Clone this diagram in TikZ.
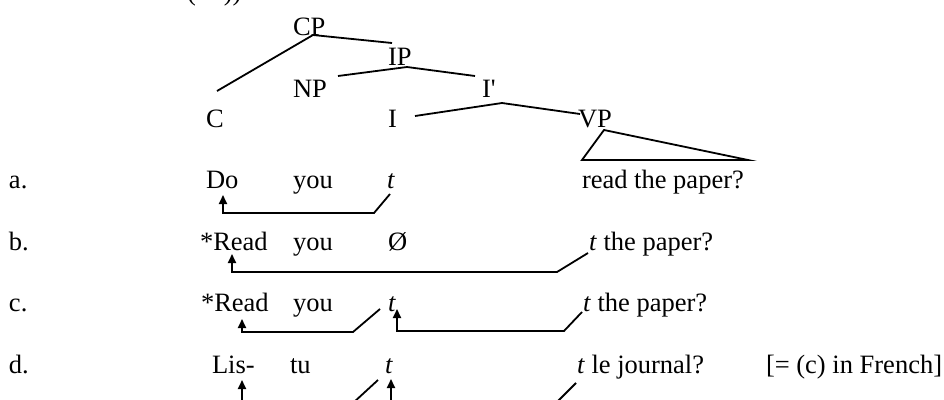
\documentclass[tikz,border=0pt]{standalone}
\usepackage{fontspec}
\setmainfont{Liberation Serif}
% same face without the TeX quote mapping, for the straight prime in I'
\newfontfamily\straightserif{Liberation Serif}
\usetikzlibrary{arrows.meta}
\begin{document}
\begin{tikzpicture}[x=1pt,y=-1pt,
  word/.style={anchor=base west,inner sep=0pt,outer sep=0pt,
    font=\fontsize{26.5pt}{30pt}\selectfont},
  branch/.style={line width=1.8pt},
  move/.style={line width=1.8pt,-{Triangle[length=9pt,width=8pt]}}]
\useasboundingbox (0,0) rectangle (944,399);
\clip (0,0) rectangle (944,399);

% example number, cut by the top edge
\node[word] (num) at (187,0) {(\hspace{28pt}))};

% tree labels
\node[word] (CP) at (293,35) {CP};
\node[word] (IP) at (388,65) {IP};
\node[word] (NP) at (293,97) {NP};
\node[word] (Ibar) at (482,97) {\straightserif I'};
\node[word] (C) at (206,127) {C};
\node[word] (I) at (388,127) {I};
\node[word] (VP) at (578,127) {VP};

% branch end points
\coordinate (cp-r) at (313,35);
\coordinate (c-t) at (217,91);
\coordinate (ip-t) at (392,43);
\coordinate (ip-b) at (407,67);
\coordinate (np-t) at (338,76);
\coordinate (ib-t) at (475,76);
\coordinate (ib-b) at (502,103);
\coordinate (i-t) at (415,116);
\coordinate (vp-t) at (580,114);
\coordinate (tri-a) at (604,130);
\coordinate (tri-l) at (582,160);
\coordinate (tri-r) at (748,160);

\draw[branch] (cp-r) -- (c-t);
\draw[branch] (cp-r) -- (ip-t);
\draw[branch] (ip-b) -- (np-t);
\draw[branch] (ip-b) -- (ib-t);
\draw[branch] (ib-b) -- (i-t);
\draw[branch] (ib-b) -- (vp-t);
\draw[branch] (tri-a) -- (tri-l) -- (tri-r) -- cycle;

% row a
\node[word] (la) at (9,188) {a.};
\node[word] (a1) at (206,188) {Do};
\node[word] (a2) at (293,188) {you};
\node[word] (a3) at (387,188) {\textit{t}};
\node[word] (a4) at (582,188) {read the paper?};

% row b
\node[word] (lb) at (9,250) {b.};
\node[word] (b1) at (200,250) {*Read};
\node[word] (b2) at (293,250) {you};
\node[word] (b3) at (388,250) {Ø};
\node[word] (b4) at (589,250) {\textit{t} the paper?};

% row c
\node[word] (lc) at (9,311) {c.};
\node[word] (c1) at (201,311) {*Read};
\node[word] (c2) at (293,311) {you};
\node[word] (c3) at (388,311) {\textit{t}};
\node[word] (c4) at (583,311) {\textit{t} the paper?};

% row d
\node[word] (ld) at (9,373) {d.};
\node[word] (d1) at (212,373) {Lis-};
\node[word] (d2) at (290,373) {tu};
\node[word] (d3) at (385,373) {\textit{t}};
\node[word] (d4) at (577,373) {\textit{t} le journal?};
\node[word] (d5) at (766,373) {[= (c) in French]};

% movement paths
\coordinate (ma-s) at (390,194);
\coordinate (ma-k) at (374,213);
\coordinate (ma-e) at (223,195);
\draw[move] (ma-s) -- (ma-k) -- (ma-e |- ma-k) -- (ma-e);

\coordinate (mb-s) at (588,253);
\coordinate (mb-k) at (557,272);
\coordinate (mb-e) at (232,254);
\draw[move] (mb-s) -- (mb-k) -- (mb-e |- mb-k) -- (mb-e);

\coordinate (mc1-s) at (380,309);
\coordinate (mc1-k) at (353,332);
\coordinate (mc1-e) at (242,319);
\draw[move] (mc1-s) -- (mc1-k) -- (mc1-e |- mc1-k) -- (mc1-e);

\coordinate (mc2-s) at (582,312);
\coordinate (mc2-k) at (564,331);
\coordinate (mc2-e) at (397,309);
\draw[move] (mc2-s) -- (mc2-k) -- (mc2-e |- mc2-k) -- (mc2-e);

\coordinate (md1-s) at (378,380);
\coordinate (md1-k) at (353,403);
\coordinate (md1-e) at (242,380);
\draw[move] (md1-s) -- (md1-k) -- (md1-e |- md1-k) -- (md1-e);

\coordinate (md2-s) at (576,383);
\coordinate (md2-k) at (556,403);
\coordinate (md2-e) at (391,379);
\draw[move] (md2-s) -- (md2-k) -- (md2-e |- md2-k) -- (md2-e);
\end{tikzpicture}
\end{document}
